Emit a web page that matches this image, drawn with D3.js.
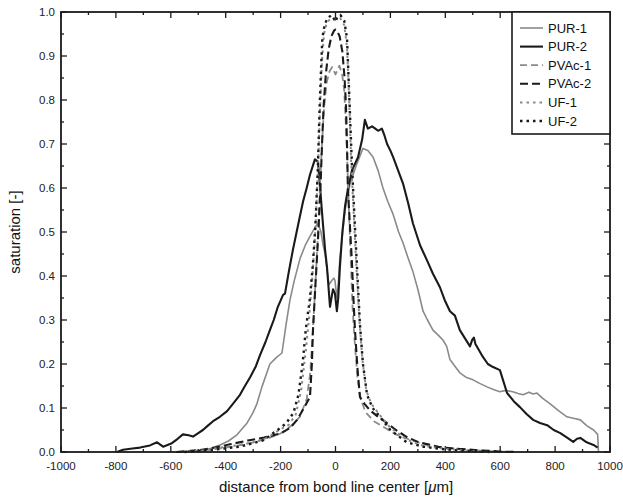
<!DOCTYPE html>
<html><head><meta charset="utf-8">
<script src="https://cdn.jsdelivr.net/npm/d3@7"></script>
<style>body{margin:0;background:#fff}svg{display:block}text{font-family:"Liberation Sans",Arial,sans-serif}</style>
</head><body><svg id="c" width="623" height="499"></svg>
<script>
const xTicks = [-1000,-800,-600,-400,-200,0,200,400,600,800,1000];
const yTicks = [0,0.1,0.2,0.3,0.4,0.5,0.6,0.7,0.8,0.9,1.0];
const seriesNames = ["PUR-1","PUR-2","PVAc-1","PVAc-2","UF-1","UF-2"];

const pur1 = [[-520,0],[-468,0.005],[-421,0.016],[-390,0.025],[-359,0.039],[-322,0.066],[-300,0.09],[-286,0.11],[-268,0.148],[-239,0.2],[-215,0.215],[-195,0.225],[-180,0.29],[-166,0.345],[-150,0.39],[-129,0.44],[-110,0.47],[-93,0.49],[-75,0.51],[-64,0.52],[-53,0.5],[-45,0.47],[-38,0.45],[-24,0.38],[-13,0.39],[-6,0.395],[-2,0.39],[5,0.35],[10,0.38],[16,0.44],[35,0.55],[53,0.61],[75,0.65],[100,0.69],[118,0.685],[137,0.67],[155,0.64],[173,0.6],[190,0.57],[210,0.54],[230,0.5],[246,0.475],[265,0.44],[282,0.41],[300,0.37],[319,0.32],[335,0.3],[355,0.277],[375,0.265],[392,0.254],[405,0.24],[417,0.21],[435,0.195],[453,0.18],[475,0.17],[501,0.164],[525,0.156],[552,0.148],[575,0.142],[599,0.137],[620,0.14],[646,0.137],[665,0.133],[683,0.13],[705,0.136],[720,0.132],[734,0.134],[755,0.122],[781,0.11],[810,0.095],[843,0.08],[870,0.076],[892,0.073],[915,0.06],[940,0.05],[955,0.04],[958,0]];

const pur2 = [[-796,0],[-774,0.005],[-740,0.008],[-712,0.01],[-676,0.015],[-650,0.022],[-628,0.012],[-596,0.02],[-575,0.03],[-556,0.04],[-535,0.038],[-519,0.035],[-500,0.043],[-483,0.05],[-465,0.06],[-446,0.07],[-421,0.08],[-395,0.093],[-373,0.11],[-348,0.13],[-330,0.15],[-311,0.17],[-290,0.195],[-275,0.22],[-255,0.25],[-239,0.277],[-225,0.3],[-210,0.33],[-191,0.357],[-184,0.36],[-170,0.41],[-155,0.46],[-135,0.52],[-118,0.57],[-105,0.6],[-93,0.63],[-75,0.665],[-64,0.66],[-56,0.6],[-46,0.52],[-38,0.46],[-31,0.42],[-20,0.33],[-12,0.36],[-9,0.37],[-2,0.36],[5,0.32],[10,0.35],[16,0.42],[25,0.5],[35,0.56],[46,0.6],[60,0.64],[82,0.67],[97,0.71],[107,0.755],[118,0.735],[133,0.74],[145,0.735],[155,0.73],[169,0.735],[178,0.72],[188,0.7],[200,0.685],[210,0.67],[228,0.64],[246,0.61],[265,0.565],[282,0.52],[295,0.495],[308,0.47],[333,0.436],[355,0.405],[380,0.375],[398,0.345],[417,0.32],[435,0.31],[453,0.277],[470,0.26],[490,0.24],[498,0.255],[504,0.26],[510,0.245],[515,0.24],[537,0.216],[555,0.2],[574,0.193],[599,0.186],[612,0.16],[625,0.134],[650,0.115],[672,0.102],[695,0.087],[720,0.073],[745,0.066],[771,0.061],[795,0.05],[819,0.043],[845,0.032],[866,0.023],[880,0.03],[892,0.032],[915,0.022],[940,0.016],[955,0.01]];

const pvac1 = [[-560,0],[-480,0.004],[-420,0.008],[-360,0.014],[-300,0.022],[-250,0.03],[-200,0.042],[-160,0.06],[-130,0.08],[-105,0.12],[-92,0.18],[-84,0.26],[-75,0.36],[-66,0.47],[-58,0.58],[-50,0.69],[-42,0.78],[-32,0.84],[-22,0.865],[-12,0.875],[-5,0.865],[0,0.858],[5,0.865],[14,0.878],[24,0.86],[32,0.82],[38,0.74],[44,0.64],[50,0.53],[56,0.43],[62,0.33],[70,0.25],[80,0.17],[92,0.12],[110,0.09],[140,0.07],[180,0.055],[220,0.04],[270,0.028],[330,0.016],[400,0.01],[480,0.005],[560,0.002],[640,0]];

const pvac2 = [[-580,0],[-500,0.004],[-440,0.01],[-380,0.018],[-320,0.026],[-260,0.033],[-200,0.042],[-165,0.055],[-140,0.073],[-115,0.1],[-93,0.125],[-86,0.2],[-82,0.277],[-74,0.37],[-64,0.48],[-56,0.58],[-49,0.7],[-43,0.79],[-35,0.86],[-25,0.915],[-15,0.945],[-5,0.958],[0,0.96],[5,0.958],[15,0.945],[25,0.91],[33,0.85],[38,0.79],[42,0.7],[45,0.6],[52,0.52],[60,0.43],[66,0.34],[71,0.277],[80,0.19],[89,0.125],[105,0.11],[125,0.095],[155,0.08],[187,0.066],[220,0.05],[260,0.034],[300,0.023],[380,0.011],[450,0.007],[520,0.004],[600,0.001],[660,0]];

const uf1 = [[-560,0],[-480,0.004],[-420,0.01],[-360,0.015],[-300,0.022],[-250,0.032],[-205,0.05],[-170,0.062],[-145,0.085],[-125,0.14],[-110,0.22],[-97,0.3],[-84,0.4],[-74,0.5],[-64,0.64],[-57,0.77],[-50,0.88],[-42,0.95],[-32,0.975],[-18,0.985],[0,0.982],[18,0.985],[32,0.97],[42,0.92],[50,0.8],[57,0.66],[68,0.52],[78,0.4],[87,0.3],[98,0.21],[112,0.14],[130,0.11],[160,0.085],[200,0.055],[260,0.028],[320,0.014],[400,0.007],[480,0.003],[560,0]];

const uf2 = [[-550,0],[-450,0.005],[-350,0.012],[-300,0.02],[-262,0.027],[-211,0.05],[-180,0.065],[-153,0.089],[-135,0.13],[-120,0.2],[-108,0.28],[-93,0.35],[-82,0.43],[-73,0.516],[-64,0.65],[-58,0.78],[-52,0.88],[-48,0.94],[-40,0.97],[-30,0.985],[-15,0.993],[-6,0.985],[0,0.978],[6,0.988],[18,0.993],[32,0.98],[42,0.94],[47,0.86],[52,0.78],[60,0.65],[71,0.51],[80,0.4],[89,0.29],[100,0.2],[115,0.13],[135,0.1],[162,0.08],[200,0.05],[260,0.022],[320,0.012],[400,0.006],[480,0.002],[560,0]];

const svg = d3.select("#c");
const L = 61, R = 610, T = 12, B = 452;
const x = d3.scaleLinear().domain([-1000,1000]).range([L,R]);
const y = d3.scaleLinear().domain([0,1]).range([B,T]);
const dark = "#1a1a1a", grey = "#8a8a8a";

// ticks (inward, all four sides)
const minorX = d3.range(-1000,1001,100);
const minorY = d3.range(0,1.001,0.05);
const tk = svg.append("g").attr("stroke",dark).attr("stroke-width",1.3);
minorX.forEach(v=>{
  const major = Math.round(v)%200===0;
  const len = major?6:3;
  tk.append("line").attr("x1",x(v)).attr("x2",x(v)).attr("y1",B).attr("y2",B-len);
  tk.append("line").attr("x1",x(v)).attr("x2",x(v)).attr("y1",T).attr("y2",T+len);
});
minorY.forEach((v,i)=>{
  const len = i%2===0?6:3;
  tk.append("line").attr("y1",y(v)).attr("y2",y(v)).attr("x1",L).attr("x2",L+len);
  tk.append("line").attr("y1",y(v)).attr("y2",y(v)).attr("x1",R).attr("x2",R-len);
});

// tick labels
svg.append("g").selectAll("text").data(xTicks).join("text")
  .attr("x",d=>x(d)).attr("y",470).attr("text-anchor","middle")
  .attr("font-size",11.5).attr("fill","#222").text(d=>d);
svg.append("g").selectAll("text").data(yTicks).join("text")
  .attr("x",L-6).attr("y",d=>y(d)+4).attr("text-anchor","end")
  .attr("font-size",11.5).attr("fill","#222").text(d=>d.toFixed(1));

// axis titles
svg.append("text").attr("x",336).attr("y",492).attr("text-anchor","middle")
  .attr("font-size",15).attr("fill","#111")
  .html('distance from bond line center [<tspan font-style="italic">μ</tspan>m]');
svg.append("text").attr("transform","translate(20,232) rotate(-90)").attr("text-anchor","middle")
  .attr("font-size",15).attr("fill","#111").text("saturation [-]");

// lines
const line = d3.line().x(d=>x(d[0])).y(d=>y(d[1]));
const styles = [
  {data:pur1, color:grey, w:1.6, dash:null},
  {data:pur2, color:dark, w:2.1, dash:null},
  {data:pvac1, color:grey, w:1.8, dash:"7,4"},
  {data:pvac2, color:dark, w:2.1, dash:"8,4"},
  {data:uf1, color:grey, w:2, dash:"2.5,4"},
  {data:uf2, color:dark, w:2.4, dash:"2.5,4"}
];
const g = svg.append("g");
styles.forEach(s=>{
  g.append("path").datum(s.data).attr("d",line).attr("fill","none")
   .attr("stroke",s.color).attr("stroke-width",s.w)
   .attr("stroke-dasharray",s.dash).attr("stroke-linejoin","round");
});

// frame
svg.append("rect").attr("x",L).attr("y",T).attr("width",R-L).attr("height",B-T)
  .attr("fill","none").attr("stroke",dark).attr("stroke-width",1.8);

// legend
const lg = svg.append("g");
lg.append("rect").attr("x",512).attr("y",T).attr("width",R-512).attr("height",134-T)
  .attr("fill","#fff").attr("stroke",dark).attr("stroke-width",1.6);
seriesNames.forEach((n,i)=>{
  const yy = 28 + i*18.6;
  const s = styles[i];
  lg.append("line").attr("x1",520).attr("x2",543).attr("y1",yy).attr("y2",yy)
    .attr("stroke",s.color).attr("stroke-width",s.w).attr("stroke-dasharray",s.dash);
  lg.append("text").attr("x",548).attr("y",yy+4.5).attr("font-size",13).attr("fill","#111").text(n);
});
</script></body></html>
